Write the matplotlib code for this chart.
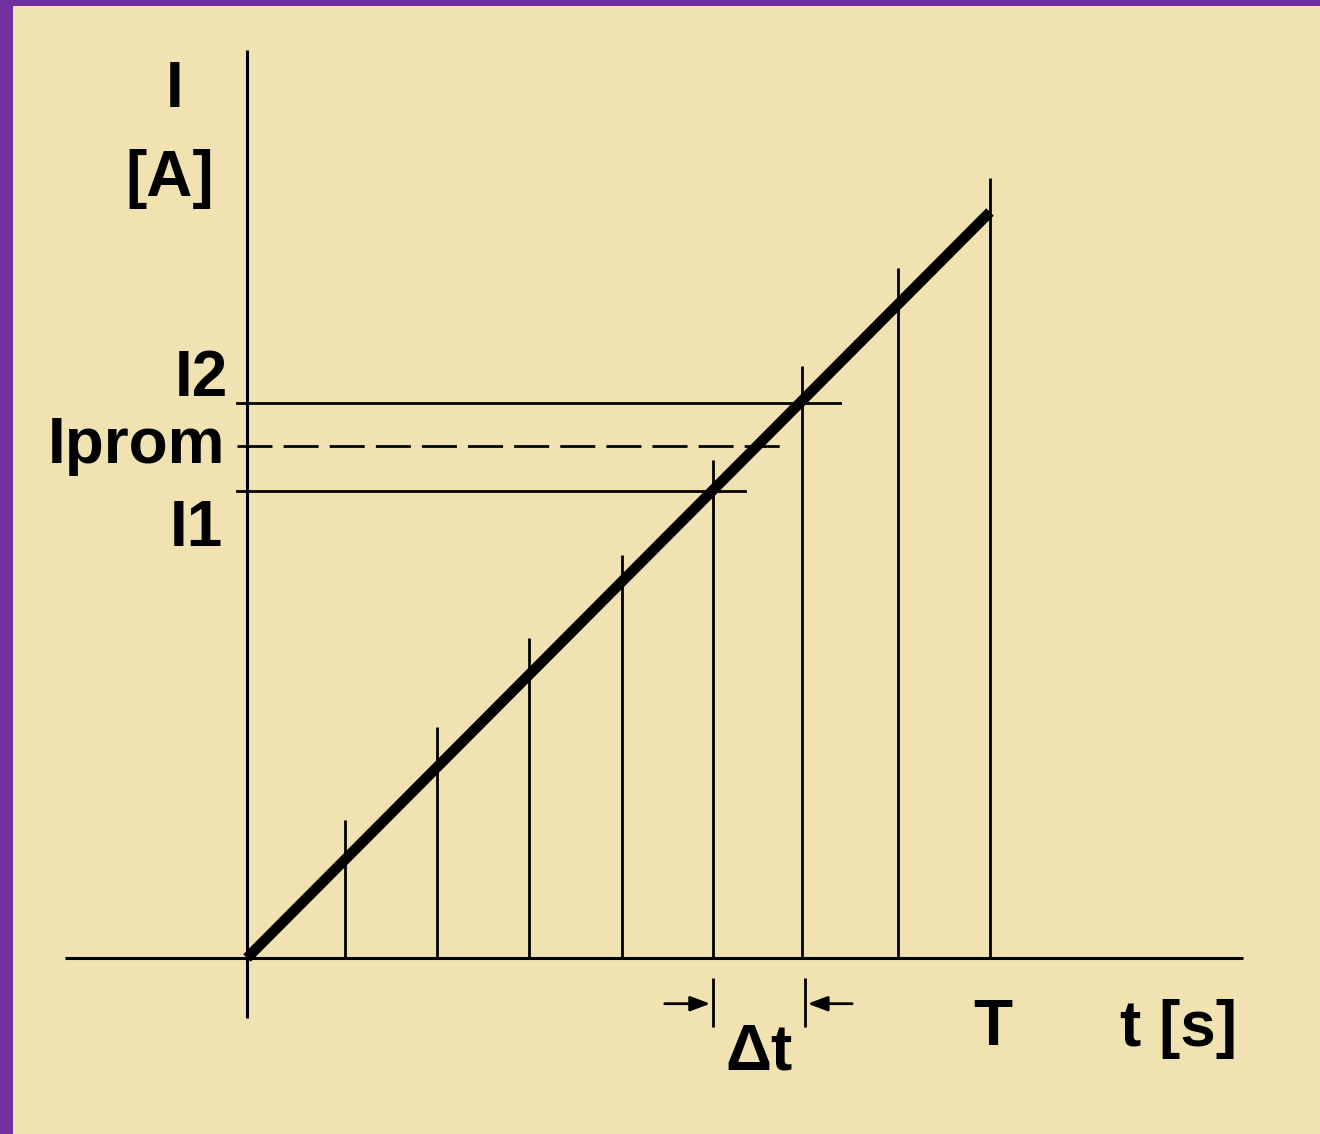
import matplotlib
matplotlib.use("Agg")
import matplotlib.pyplot as plt
from matplotlib import font_manager

# ---- data (diagram units: t in steps of Δt, I in same units) ----
t_steps = [1.055, 2.046, 3.036, 4.038, 5.018, 5.976, 7.01, 8.0]   # vertical sample lines
step_tops = [1.48, 2.48, 3.43, 4.32, 5.34, 6.35, 7.40, 8.36]      # tops of the vertical lines
ramp_t = [0, 8]
ramp_I = [0, 8.0]
I1, Iprom, I2 = 5.01, 5.49, 5.95
I1_end, Iprom_end, I2_end = 5.36, 5.77, 6.38
level_start = -0.11
yaxis_range = [-0.64, 9.74]
xaxis_range = [-1.96, 10.72]
dt_left, dt_right = 5.018, 5.976

# ---- figure / pixel mapping ----
W, H = 1320, 1134
ox, oy = 247, 958
sx, sy = 92.875, 93.25
BEIGE = "#F0E3B1"
PURPLE = "#7030A0"

names = {f.name for f in font_manager.fontManager.ttflist}
if "Liberation Sans Narrow" in names:
    FAM = ["Liberation Sans Narrow", "DejaVu Sans"]
    FS = 54
else:
    FAM = ["Liberation Sans", "DejaVu Sans"]
    FS = 46

fig = plt.figure(figsize=(W / 100, H / 100), dpi=100)
fig.patch.set_facecolor(PURPLE)
bg = fig.add_axes([13 / W, 0, 1 - 13 / W, 1 - 6 / H])
bg.set_facecolor(BEIGE)
bg.set_xticks([]); bg.set_yticks([])
for s in bg.spines.values():
    s.set_visible(False)
bg.set_zorder(0)

ax = fig.add_axes([0, 0, 1, 1])
ax.set_zorder(2)
ax.patch.set_alpha(0)
ax.set_xlim(-ox / sx, (W - ox) / sx)
ax.set_ylim(-(H - oy) / sy, oy / sy)
ax.axis("off")

LW = 2.0
# axes
ax.plot([0, 0], yaxis_range, color="black", lw=2.2, solid_capstyle="butt")
ax.plot(xaxis_range, [0, 0], color="black", lw=2.2, solid_capstyle="butt")
# vertical sample lines
for t, top in zip(t_steps, step_tops):
    ax.plot([t, t], [0, top], color="black", lw=LW, solid_capstyle="butt")
# ramp
ax.plot(ramp_t, ramp_I, color="black", lw=7.6, solid_capstyle="butt")
# levels
ax.plot([level_start, I2_end], [I2, I2], color="black", lw=LW)
ax.plot([level_start, Iprom_end], [Iprom, Iprom], color="black", lw=LW,
        dashes=(12.6, 4.0))
ax.plot([level_start, I1_end], [I1, I1], color="black", lw=LW)

# Δt markers
ya = -0.49
for xv in (dt_left, dt_right + 0.03):
    ax.plot([xv, xv], [-0.21, -0.74], color="black", lw=LW, solid_capstyle="butt")
astyle = "-|>,head_length=1.2,head_width=0.45"
ax.annotate("", xy=(dt_left - 0.03, ya), xytext=(dt_left - 0.52, ya),
            arrowprops=dict(arrowstyle=astyle, color="black", lw=LW,
                            shrinkA=0, shrinkB=0))
ax.annotate("", xy=(dt_right + 0.06, ya), xytext=(dt_right + 0.54, ya),
            arrowprops=dict(arrowstyle=astyle, color="black", lw=LW,
                            shrinkA=0, shrinkB=0))

def X(px):
    return (px - ox) / sx

def Y(py):
    return (oy - py) / sy

kw = dict(family=FAM, fontsize=FS, fontweight="bold", color="black")
ax.text(X(175), Y(107), "I", ha="center", va="baseline", **kw)
ax.text(X(170), Y(196), "[A]", ha="center", va="baseline", **kw)
ax.text(X(228), Y(396), "I2", ha="right", va="baseline", **kw)
ax.text(X(225), Y(463), "Iprom", ha="right", va="baseline", **kw)
ax.text(X(223), Y(546), "I1", ha="right", va="baseline", **kw)
ax.text(X(993), Y(1045), "T", ha="center", va="baseline", **kw)
ax.text(X(1120), Y(1046), "t [s]", ha="left", va="baseline", **kw)
ax.text(X(725), Y(1069), "Δt", ha="left", va="baseline", **kw)

fig.savefig("out.png", dpi=100, facecolor=PURPLE)
